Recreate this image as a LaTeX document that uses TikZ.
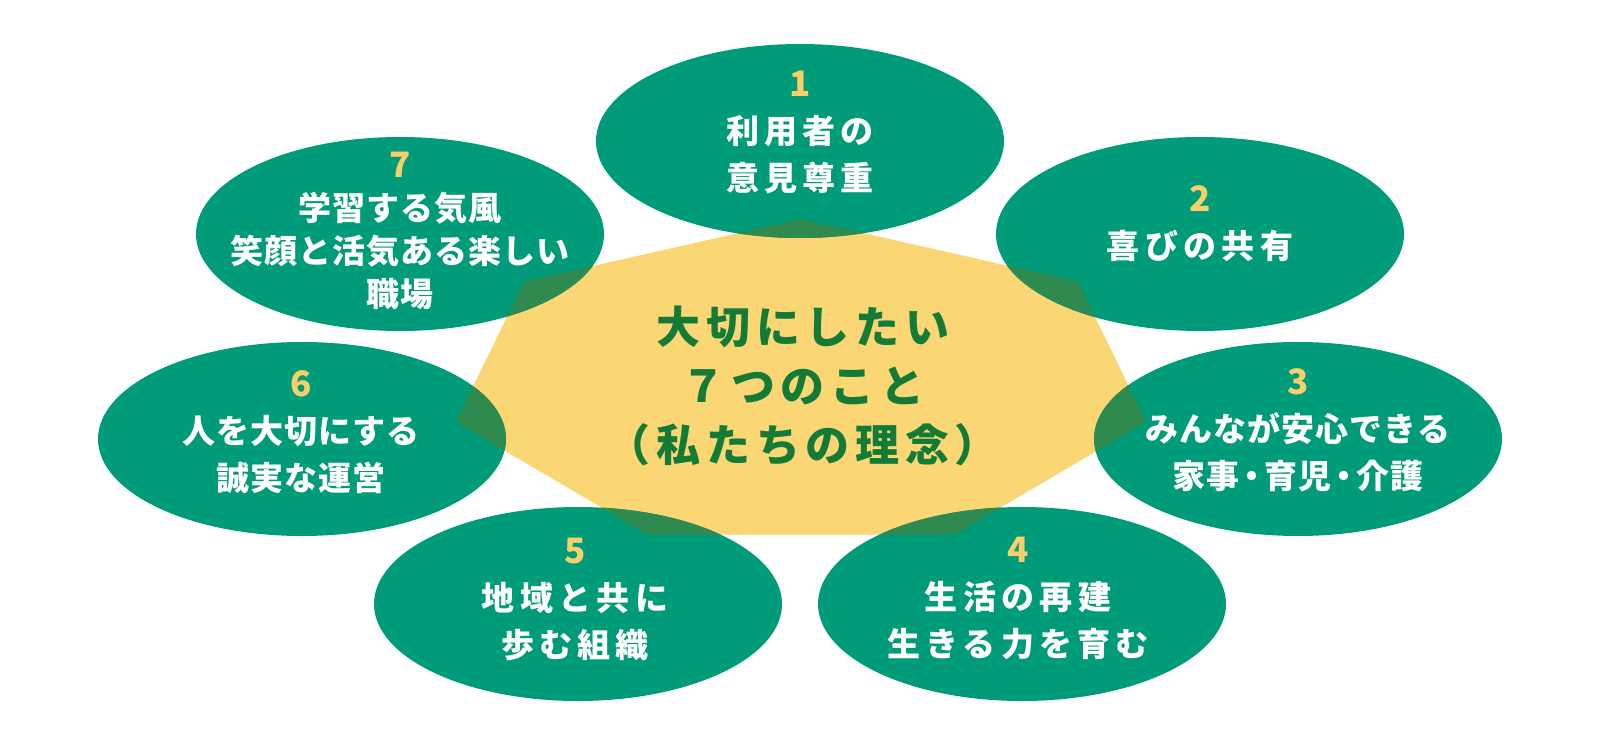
\documentclass[tikz,border=0pt]{standalone}
\usepackage{fontspec}
\newfontfamily\jpA{Noto Sans CJK JP}[LetterSpace=16]
\newfontfamily\jpB{Noto Sans CJK JP}[LetterSpace=3]
\newfontfamily\jpC{Noto Sans CJK JP}[LetterSpace=13]
\usetikzlibrary{shapes.geometric}
\definecolor{egreen}{HTML}{009B78}
\definecolor{hyellow}{HTML}{FBD675}
\definecolor{ovl}{HTML}{2E8A4E}
\definecolor{numy}{HTML}{F9CF6A}
\definecolor{ctext}{HTML}{137B36}
\newcommand{\tightdot}{\kern-4bp・\kern-4bp}
\begin{document}
\begin{tikzpicture}[x=1bp,y=-1bp,
  ell/.style={ellipse, fill=egreen, minimum width=408bp, minimum height=194bp, inner sep=0pt},
  lblA/.style={text=white, align=center, inner sep=0pt, font=\jpA\bfseries\fontsize{33bp}{47bp}\selectfont},
  lblB/.style={text=white, align=center, inner sep=0pt, font=\jpB\bfseries\fontsize{33bp}{47bp}\selectfont},
  ctr/.style={text=ctext, align=center, inner sep=0pt, font=\jpC\bfseries\fontsize{44bp}{59bp}\selectfont}]
\useasboundingbox (0,0) rectangle (1600,746);
\def\hept{(801,219) -- (524.2,281.5) -- (455.9,421.9) -- (647.4,534.6) -- (954.6,534.6) -- (1146.1,421.9) -- (1077.8,281.5) -- cycle}
% heptagon
\fill[hyellow] \hept;
% ellipses
\node[ell] (e1) at (800,141) {};
\node[ell] (e2) at (1200,234) {};
\node[ell] (e3) at (1298,439) {};
\node[ell] (e4) at (1022,604) {};
\node[ell] (e5) at (578,604) {};
\node[ell] (e6) at (302,439) {};
\node[ell] (e7) at (400,234) {};
% overlaps
\foreach \cx/\cy in {800/141,1200/234,1298/439,1022/604,578/604,302/439,400/234}{
  \begin{scope}
    \clip (\cx,\cy) ellipse [x radius=204, y radius=97];
    \fill[ovl] \hept;
  \end{scope}
}
% texts
\node[ctr] (c) at (803,386) {大切にしたい\\７つのこと\\（私たちの理念）};
\node[lblA] (t1) at (800,132) {{\fontsize{35bp}{47bp}\selectfont\textcolor{numy}{1}}\\利用者の\\意見尊重};
\node[lblA] (t2) at (1200,224) {{\fontsize{35bp}{47bp}\selectfont\textcolor{numy}{2}}\\喜びの共有};
\node[lblB] (t3) at (1298,430) {{\fontsize{35bp}{47bp}\selectfont\textcolor{numy}{3}}\\みんなが安心できる\\家事\tightdot 育児\tightdot 介護};
\node[lblA] (t4) at (1018,598) {{\fontsize{35bp}{47bp}\selectfont\textcolor{numy}{4}}\\生活の再建\\生きる力を育む};
\node[lblA] (t5) at (575,600) {{\fontsize{35bp}{47bp}\selectfont\textcolor{numy}{5}}\\地域と共に\\歩む組織};
\node[lblB] (t6) at (301,432) {{\fontsize{35bp}{47bp}\selectfont\textcolor{numy}{6}}\\人を大切にする\\誠実な運営};
\node[lblB, font=\jpB\bfseries\fontsize{33bp}{43bp}\selectfont] (t7) at (400,231) {{\fontsize{35bp}{43bp}\selectfont\textcolor{numy}{7}}\\学習する気風\\笑顔と活気ある楽しい\\職場};
\end{tikzpicture}
\end{document}
